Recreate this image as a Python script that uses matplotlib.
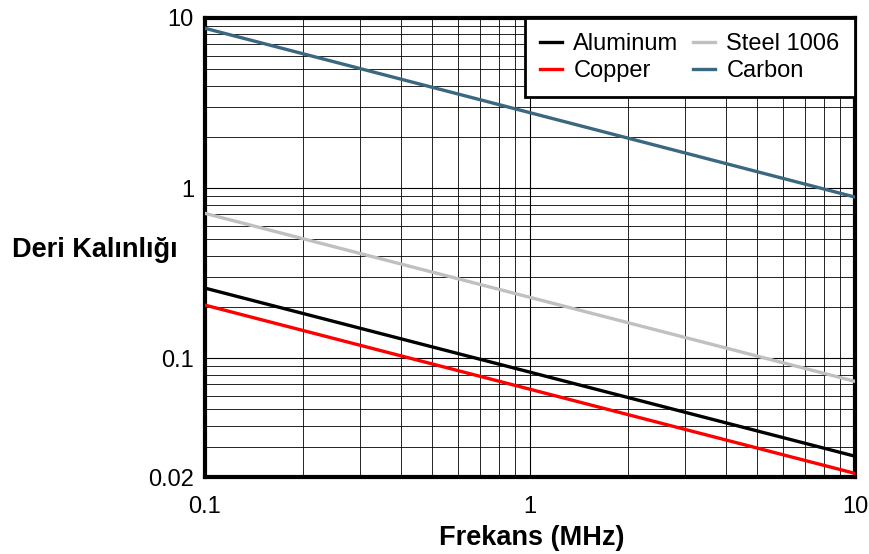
import matplotlib.pyplot as plt
from matplotlib.ticker import LogLocator, FixedLocator, NullFormatter

# frequency (MHz) at the two ends of each line
freq = [0.1, 10]

aluminum = [0.258, 0.0265]
copper = [0.205, 0.021]
steel = [0.71, 0.073]
carbon = [8.7, 0.885]

x_ticks = [0.1, 1, 10]
x_labels = ['0.1', '1', '10']
y_ticks = [0.02, 0.1, 1, 10]
y_labels = ['0.02', '0.1', '1', '10']

plt.rcParams['font.family'] = ['Liberation Sans', 'DejaVu Sans']

fig = plt.figure(figsize=(8.7, 5.54), dpi=100)
ax = fig.add_axes([205 / 870, 1 - 477 / 554, 650 / 870, 459 / 554])

ax.set_xscale('log')
ax.set_yscale('log')
ax.set_xlim(0.1, 10)
ax.set_ylim(0.02, 10)

# grid lines
ax.xaxis.set_minor_locator(LogLocator(base=10, subs=range(2, 10)))
ax.yaxis.set_minor_locator(LogLocator(base=10, subs=range(2, 10)))
ax.xaxis.set_minor_formatter(NullFormatter())
ax.yaxis.set_minor_formatter(NullFormatter())
ax.grid(which='major', color='black', linewidth=0.8)
ax.grid(which='minor', color='black', linewidth=0.6)

ax.plot(freq, aluminum, color='black', linewidth=2.4, label='Aluminum', zorder=3)
ax.plot(freq, copper, color='#ff0000', linewidth=2.4, label='Copper', zorder=3)
ax.plot(freq, steel, color='#c0c0c0', linewidth=2.4, label='Steel 1006', zorder=3)
ax.plot(freq, carbon, color='#3b6881', linewidth=2.4, label='Carbon', zorder=3)

ax.xaxis.set_major_locator(FixedLocator(x_ticks))
ax.set_xticklabels(x_labels)
ax.yaxis.set_major_locator(FixedLocator(y_ticks))
ax.set_yticklabels(y_labels)
ax.tick_params(which='both', length=0, labelsize=17)
ax.tick_params(axis='x', pad=14)
ax.tick_params(axis='y', pad=8)
for lbl in ax.get_yticklabels():
    lbl.set_verticalalignment('center_baseline')

for s in ax.spines.values():
    s.set_linewidth(3)
    s.set_color('black')

fig.text(532 / 870, 1 - 538 / 554, 'Frekans (MHz)', fontsize=19.5, fontweight='bold',
         ha='center', va='center')
fig.text(12 / 870, 1 - 250 / 554, 'Deri Kalınlığı', fontsize=19.5, fontweight='bold',
         ha='left', va='center')

handles, labels = ax.get_legend_handles_labels()
leg = ax.legend(handles, labels, ncol=2,
                loc='upper right', fontsize=17, frameon=True, fancybox=False,
                handlelength=0.93, handletextpad=0.47, columnspacing=0.63,
                borderaxespad=0.0, borderpad=0.65, labelspacing=0.2)
leg.get_frame().set_edgecolor('black')
leg.get_frame().set_linewidth(2)
leg.get_frame().set_alpha(1)

fig.savefig('out.png', dpi=100)
